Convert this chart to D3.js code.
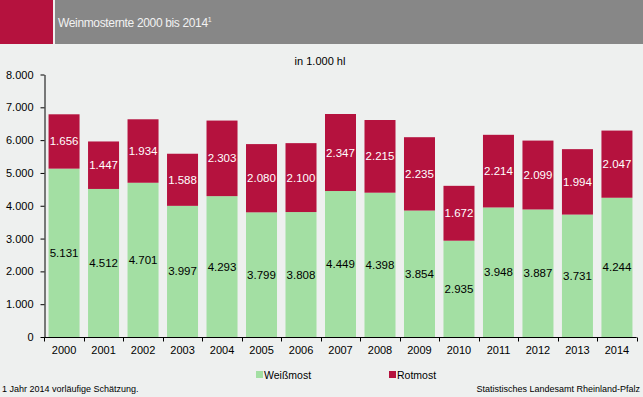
<!DOCTYPE html>
<html><head><meta charset="utf-8">
<script src="https://cdn.jsdelivr.net/npm/d3@7/dist/d3.min.js"></script>
<style>
body{margin:0;background:#eef0ef;}
svg{display:block;font-family:"Liberation Sans",Arial,sans-serif;}
</style></head><body>
<svg id="c" width="643" height="397"></svg>
<script>
const years = ["2000","2001","2002","2003","2004","2005","2006","2007","2008","2009","2010","2011","2012","2013","2014"];
const weiss = [5131,4512,4701,3997,4293,3799,3808,4449,4398,3854,2935,3948,3887,3731,4244];
const rot = [1656,1447,1934,1588,2303,2080,2100,2347,2215,2235,1672,2214,2099,1994,2047];
const yTicks = [0,1000,2000,3000,4000,5000,6000,7000,8000];
const seriesNames = ["Weißmost","Rotmost"];
const colors = ["#a3dfa3","#b5123e"];

const svg = d3.select("#c");
const fmt = v => d3.format(",")(v).replace(/,/g,".");

svg.append("rect").attr("x",0).attr("y",0).attr("width",643).attr("height",397).attr("fill","#eef0ef");
// header
svg.append("rect").attr("x",0).attr("y",0).attr("width",53).attr("height",44).attr("fill","#b5123e");
svg.append("rect").attr("x",55).attr("y",0).attr("width",588).attr("height",44).attr("fill","#878787");
const t = svg.append("text").attr("x",58).attr("y",27).attr("fill","#f2f2f2").attr("font-size",12).attr("letter-spacing",-0.35);
t.append("tspan").text("Weinmosternte 2000 bis 2014");
t.append("tspan").attr("font-size",7).attr("dy",-5).text("1");

svg.append("text").attr("x",320).attr("y",65).attr("text-anchor","middle").attr("font-size",11).attr("fill","#000").text("in 1.000 hl");

const x = d3.scaleBand().domain(years).range([44.3,636.7]).paddingInner(0.215).paddingOuter(0.1075);
const y = d3.scaleLinear().domain([0,8000]).range([337,74.5]);

// bars
const g = svg.append("g");
years.forEach((yr,i)=>{
  g.append("rect").attr("x",x(yr)).attr("width",x.bandwidth()).attr("y",y(weiss[i])).attr("height",y(0)-y(weiss[i])).attr("fill",colors[0]);
  g.append("rect").attr("x",x(yr)).attr("width",x.bandwidth()).attr("y",y(weiss[i]+rot[i])).attr("height",y(weiss[i])-y(weiss[i]+rot[i])).attr("fill",colors[1]);
  g.append("text").attr("x",x(yr)+x.bandwidth()/2).attr("y",(y(0)+y(weiss[i]))/2+4).attr("text-anchor","middle").attr("font-size",11.5).attr("fill","#000").text(fmt(weiss[i]));
  g.append("text").attr("x",x(yr)+x.bandwidth()/2).attr("y",(y(weiss[i])+y(weiss[i]+rot[i]))/2+4).attr("text-anchor","middle").attr("font-size",11.5).attr("fill","#fff").text(fmt(rot[i]));
});

// y axis
const ya = svg.append("g").attr("transform","translate(44.5,0)")
  .call(d3.axisLeft(y).tickValues(yTicks).tickFormat(fmt).tickSize(4).tickSizeOuter(0));
ya.select(".domain").attr("stroke","#000");
ya.selectAll("text").attr("font-size",11).attr("fill","#000").attr("font-family","Liberation Sans, Arial, sans-serif").attr("dx",-4);

// x axis
const xa = svg.append("g").attr("transform","translate(0,337.5)")
  .call(d3.axisBottom(x).tickSize(0).tickSizeOuter(0));
xa.select(".domain").attr("stroke","#000").attr("d","M44.3,0H636.7");
xa.selectAll("text").attr("font-size",11).attr("fill","#000").attr("font-family","Liberation Sans, Arial, sans-serif").attr("dy","1.2em");
// boundary ticks
const step = x.step();
const bounds = d3.range(years.length+1).map(i=>44.3+i*step);
xa.selectAll(".bt").data(bounds).enter().append("line").attr("class","bt")
  .attr("x1",d=>Math.round(d)+0.5).attr("x2",d=>Math.round(d)+0.5).attr("y1",0).attr("y2",4).attr("stroke","#000");

// legend
const lg = svg.append("g");
[[256,seriesNames[0],colors[0]],[389,seriesNames[1],colors[1]]].forEach(([lx,name,col])=>{
  lg.append("rect").attr("x",lx).attr("y",371).attr("width",7).attr("height",7).attr("fill",col);
  lg.append("text").attr("x",lx+8).attr("y",379).attr("font-size",10.5).attr("fill","#000").text(name);
});

svg.append("text").attr("x",2).attr("y",392).attr("font-size",9).attr("fill","#000").text("1 Jahr 2014 vorläufige Schätzung.");
svg.append("text").attr("x",640).attr("y",392).attr("text-anchor","end").attr("font-size",9).attr("fill","#000").text("Statistisches Landesamt Rheinland-Pfalz");
</script>
</body></html>
